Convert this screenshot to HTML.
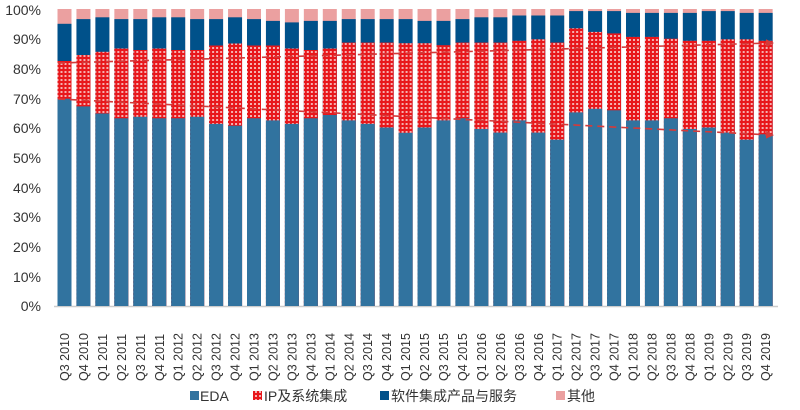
<!DOCTYPE html>
<html><head><meta charset="utf-8"><style>body{margin:0;background:#fff}svg{display:block}
.o{fill:#eba0a0}.s{fill:#00518a}.i{fill:url(#ip)}.e{fill:#31739f}</style></head>
<body>
<svg width="800" height="410" xmlns="http://www.w3.org/2000/svg" font-family="Liberation Sans, Noto Sans CJK SC, sans-serif">
<defs>
<pattern id="ip" width="4" height="4" patternUnits="userSpaceOnUse">
<rect width="4" height="4" fill="#f5b0b0"/>
<rect x="1" y="0" width="2" height="4" fill="#e8171b"/>
<rect x="0" y="1" width="4" height="2" fill="#e8171b"/>
</pattern>
<marker id="ar" markerWidth="8" markerHeight="8" refX="6" refY="4" orient="auto" markerUnits="userSpaceOnUse"><path d="M0,0 L8,4 L0,8 z" fill="#d43a3a"/></marker>
<g id="b0"><rect class="o" x="0" y="9" width="14" height="297"/></g>
</defs>
<g font-size="14" fill="#333" text-anchor="end">
<text x="41" y="15">100%</text><text x="41" y="44">90%</text><text x="41" y="74">80%</text><text x="41" y="104">70%</text><text x="41" y="133">60%</text><text x="41" y="163">50%</text><text x="41" y="193">40%</text><text x="41" y="222">30%</text><text x="41" y="252">20%</text><text x="41" y="282">10%</text><text x="41" y="311">0%</text>
</g>
<line x1="54" y1="306.5" x2="778" y2="306.5" stroke="#ccc" stroke-width="1.5"/>
<g>
<g transform="translate(57.5,0)"><use href="#b0"/><rect class="s" width="14" y="23.8" height="282.2"/><rect class="i" width="14" y="61" height="245"/><rect class="e" width="14" y="98.7" height="207.3"/></g>
<g transform="translate(76.45,0)"><use href="#b0"/><rect class="s" width="14" y="19.1" height="286.9"/><rect class="i" width="14" y="55" height="251"/><rect class="e" width="14" y="106.4" height="199.6"/></g>
<g transform="translate(95.4,0)"><use href="#b0"/><rect class="s" width="14" y="17.3" height="288.7"/><rect class="i" width="14" y="51.8" height="254.2"/><rect class="e" width="14" y="113.5" height="192.5"/></g>
<g transform="translate(114.35,0)"><use href="#b0"/><rect class="s" width="14" y="19.1" height="286.9"/><rect class="i" width="14" y="48.5" height="257.5"/><rect class="e" width="14" y="118.3" height="187.7"/></g>
<g transform="translate(133.3,0)"><use href="#b0"/><rect class="s" width="14" y="19.1" height="286.9"/><rect class="i" width="14" y="50" height="256"/><rect class="e" width="14" y="116.8" height="189.2"/></g>
<g transform="translate(152.25,0)"><use href="#b0"/><rect class="s" width="14" y="17.3" height="288.7"/><rect class="i" width="14" y="48.5" height="257.5"/><rect class="e" width="14" y="118.3" height="187.7"/></g>
<g transform="translate(171.2,0)"><use href="#b0"/><rect class="s" width="14" y="17.3" height="288.7"/><rect class="i" width="14" y="50" height="256"/><rect class="e" width="14" y="118.3" height="187.7"/></g>
<g transform="translate(190.15,0)"><use href="#b0"/><rect class="s" width="14" y="19.1" height="286.9"/><rect class="i" width="14" y="50" height="256"/><rect class="e" width="14" y="116.8" height="189.2"/></g>
<g transform="translate(209.1,0)"><use href="#b0"/><rect class="s" width="14" y="19.1" height="286.9"/><rect class="i" width="14" y="45.5" height="260.5"/><rect class="e" width="14" y="123.9" height="182.1"/></g>
<g transform="translate(228.05,0)"><use href="#b0"/><rect class="s" width="14" y="17.3" height="288.7"/><rect class="i" width="14" y="43.5" height="262.5"/><rect class="e" width="14" y="125.7" height="180.3"/></g>
<g transform="translate(247,0)"><use href="#b0"/><rect class="s" width="14" y="19.1" height="286.9"/><rect class="i" width="14" y="45.5" height="260.5"/><rect class="e" width="14" y="118.3" height="187.7"/></g>
<g transform="translate(265.95,0)"><use href="#b0"/><rect class="s" width="14" y="20.9" height="285.1"/><rect class="i" width="14" y="45.5" height="260.5"/><rect class="e" width="14" y="120.4" height="185.6"/></g>
<g transform="translate(284.9,0)"><use href="#b0"/><rect class="s" width="14" y="22.4" height="283.6"/><rect class="i" width="14" y="48.5" height="257.5"/><rect class="e" width="14" y="123.9" height="182.1"/></g>
<g transform="translate(303.85,0)"><use href="#b0"/><rect class="s" width="14" y="20.9" height="285.1"/><rect class="i" width="14" y="50" height="256"/><rect class="e" width="14" y="118.3" height="187.7"/></g>
<g transform="translate(322.8,0)"><use href="#b0"/><rect class="s" width="14" y="20.9" height="285.1"/><rect class="i" width="14" y="48.5" height="257.5"/><rect class="e" width="14" y="115" height="191"/></g>
<g transform="translate(341.75,0)"><use href="#b0"/><rect class="s" width="14" y="19.1" height="286.9"/><rect class="i" width="14" y="42.6" height="263.4"/><rect class="e" width="14" y="120.4" height="185.6"/></g>
<g transform="translate(360.7,0)"><use href="#b0"/><rect class="s" width="14" y="19.1" height="286.9"/><rect class="i" width="14" y="42.6" height="263.4"/><rect class="e" width="14" y="123.9" height="182.1"/></g>
<g transform="translate(379.65,0)"><use href="#b0"/><rect class="s" width="14" y="19.1" height="286.9"/><rect class="i" width="14" y="42.6" height="263.4"/><rect class="e" width="14" y="127.5" height="178.5"/></g>
<g transform="translate(398.6,0)"><use href="#b0"/><rect class="s" width="14" y="19.1" height="286.9"/><rect class="i" width="14" y="43.2" height="262.8"/><rect class="e" width="14" y="132.8" height="173.2"/></g>
<g transform="translate(417.55,0)"><use href="#b0"/><rect class="s" width="14" y="20.9" height="285.1"/><rect class="i" width="14" y="43.2" height="262.8"/><rect class="e" width="14" y="127.5" height="178.5"/></g>
<g transform="translate(436.5,0)"><use href="#b0"/><rect class="s" width="14" y="20.9" height="285.1"/><rect class="i" width="14" y="45.2" height="260.8"/><rect class="e" width="14" y="120.4" height="185.6"/></g>
<g transform="translate(455.45,0)"><use href="#b0"/><rect class="s" width="14" y="19.1" height="286.9"/><rect class="i" width="14" y="42.6" height="263.4"/><rect class="e" width="14" y="118.3" height="187.7"/></g>
<g transform="translate(474.4,0)"><use href="#b0"/><rect class="s" width="14" y="17.3" height="288.7"/><rect class="i" width="14" y="42.6" height="263.4"/><rect class="e" width="14" y="129" height="177"/></g>
<g transform="translate(493.35,0)"><use href="#b0"/><rect class="s" width="14" y="17.3" height="288.7"/><rect class="i" width="14" y="42.6" height="263.4"/><rect class="e" width="14" y="132.6" height="173.4"/></g>
<g transform="translate(512.3,0)"><use href="#b0"/><rect class="s" width="14" y="15.5" height="290.5"/><rect class="i" width="14" y="40.8" height="265.2"/><rect class="e" width="14" y="120.4" height="185.6"/></g>
<g transform="translate(531.25,0)"><use href="#b0"/><rect class="s" width="14" y="15.5" height="290.5"/><rect class="i" width="14" y="39.3" height="266.7"/><rect class="e" width="14" y="132.6" height="173.4"/></g>
<g transform="translate(550.2,0)"><use href="#b0"/><rect class="s" width="14" y="15.5" height="290.5"/><rect class="i" width="14" y="42.6" height="263.4"/><rect class="e" width="14" y="139.7" height="166.3"/></g>
<g transform="translate(569.15,0)"><use href="#b0"/><rect class="s" width="14" y="11.1" height="294.9"/><rect class="i" width="14" y="28.3" height="277.7"/><rect class="e" width="14" y="112.4" height="193.6"/></g>
<g transform="translate(588.1,0)"><use href="#b0"/><rect class="s" width="14" y="11.1" height="294.9"/><rect class="i" width="14" y="31.9" height="274.1"/><rect class="e" width="14" y="108.8" height="197.2"/></g>
<g transform="translate(607.05,0)"><use href="#b0"/><rect class="s" width="14" y="11.1" height="294.9"/><rect class="i" width="14" y="33.4" height="272.6"/><rect class="e" width="14" y="110.3" height="195.7"/></g>
<g transform="translate(626,0)"><use href="#b0"/><rect class="s" width="14" y="12.9" height="293.1"/><rect class="i" width="14" y="36.9" height="269.1"/><rect class="e" width="14" y="120.4" height="185.6"/></g>
<g transform="translate(644.95,0)"><use href="#b0"/><rect class="s" width="14" y="12.9" height="293.1"/><rect class="i" width="14" y="36.9" height="269.1"/><rect class="e" width="14" y="120.4" height="185.6"/></g>
<g transform="translate(663.9,0)"><use href="#b0"/><rect class="s" width="14" y="12.9" height="293.1"/><rect class="i" width="14" y="38.7" height="267.3"/><rect class="e" width="14" y="118.3" height="187.7"/></g>
<g transform="translate(682.85,0)"><use href="#b0"/><rect class="s" width="14" y="12.9" height="293.1"/><rect class="i" width="14" y="40.8" height="265.2"/><rect class="e" width="14" y="129" height="177"/></g>
<g transform="translate(701.8,0)"><use href="#b0"/><rect class="s" width="14" y="11.1" height="294.9"/><rect class="i" width="14" y="40.8" height="265.2"/><rect class="e" width="14" y="127.5" height="178.5"/></g>
<g transform="translate(720.75,0)"><use href="#b0"/><rect class="s" width="14" y="11.1" height="294.9"/><rect class="i" width="14" y="39.3" height="266.7"/><rect class="e" width="14" y="132.6" height="173.4"/></g>
<g transform="translate(739.7,0)"><use href="#b0"/><rect class="s" width="14" y="12.9" height="293.1"/><rect class="i" width="14" y="39.3" height="266.7"/><rect class="e" width="14" y="139.7" height="166.3"/></g>
<g transform="translate(758.65,0)"><use href="#b0"/><rect class="s" width="14" y="12.9" height="293.1"/><rect class="i" width="14" y="40.8" height="265.2"/><rect class="e" width="14" y="134.3" height="171.7"/></g>
</g>
<line x1="58" y1="99" x2="772" y2="135" stroke="#d43a3a" stroke-width="1.6" stroke-dasharray="7,5" marker-end="url(#ar)"/>
<line x1="58" y1="63" x2="772" y2="43" stroke="#d43a3a" stroke-width="1.6" stroke-dasharray="7,5" marker-end="url(#ar)"/>
<g font-size="12.5" fill="#333">
<text transform="translate(69,381) rotate(-90)">Q3 2010</text>
<text transform="translate(87.95,381) rotate(-90)">Q4 2010</text>
<text transform="translate(106.9,381) rotate(-90)">Q1 2011</text>
<text transform="translate(125.85,381) rotate(-90)">Q2 2011</text>
<text transform="translate(144.8,381) rotate(-90)">Q3 2011</text>
<text transform="translate(163.75,381) rotate(-90)">Q4 2011</text>
<text transform="translate(182.7,381) rotate(-90)">Q1 2012</text>
<text transform="translate(201.65,381) rotate(-90)">Q2 2012</text>
<text transform="translate(220.6,381) rotate(-90)">Q3 2012</text>
<text transform="translate(239.55,381) rotate(-90)">Q4 2012</text>
<text transform="translate(258.5,381) rotate(-90)">Q1 2013</text>
<text transform="translate(277.45,381) rotate(-90)">Q2 2013</text>
<text transform="translate(296.4,381) rotate(-90)">Q3 2013</text>
<text transform="translate(315.35,381) rotate(-90)">Q4 2013</text>
<text transform="translate(334.3,381) rotate(-90)">Q1 2014</text>
<text transform="translate(353.25,381) rotate(-90)">Q2 2014</text>
<text transform="translate(372.2,381) rotate(-90)">Q3 2014</text>
<text transform="translate(391.15,381) rotate(-90)">Q4 2014</text>
<text transform="translate(410.1,381) rotate(-90)">Q1 2015</text>
<text transform="translate(429.05,381) rotate(-90)">Q2 2015</text>
<text transform="translate(448,381) rotate(-90)">Q3 2015</text>
<text transform="translate(466.95,381) rotate(-90)">Q4 2015</text>
<text transform="translate(485.9,381) rotate(-90)">Q1 2016</text>
<text transform="translate(504.85,381) rotate(-90)">Q2 2016</text>
<text transform="translate(523.8,381) rotate(-90)">Q3 2016</text>
<text transform="translate(542.75,381) rotate(-90)">Q4 2016</text>
<text transform="translate(561.7,381) rotate(-90)">Q1 2017</text>
<text transform="translate(580.65,381) rotate(-90)">Q2 2017</text>
<text transform="translate(599.6,381) rotate(-90)">Q3 2017</text>
<text transform="translate(618.55,381) rotate(-90)">Q4 2017</text>
<text transform="translate(637.5,381) rotate(-90)">Q1 2018</text>
<text transform="translate(656.45,381) rotate(-90)">Q2 2018</text>
<text transform="translate(675.4,381) rotate(-90)">Q3 2018</text>
<text transform="translate(694.35,381) rotate(-90)">Q4 2018</text>
<text transform="translate(713.3,381) rotate(-90)">Q1 2019</text>
<text transform="translate(732.25,381) rotate(-90)">Q2 2019</text>
<text transform="translate(751.2,381) rotate(-90)">Q3 2019</text>
<text transform="translate(770.15,381) rotate(-90)">Q4 2019</text>
</g>
<g font-size="14" fill="#333">
<rect x="190" y="391" width="9" height="9" fill="#31739f"/><text x="200" y="401">EDA</text>
<rect x="253" y="391" width="9" height="9" fill="url(#ip)"/><text x="264" y="401">IP及系统集成</text>
<rect x="380" y="391" width="9" height="9" fill="#00518a"/><text x="391" y="401">软件集成产品与服务</text>
<rect x="556" y="391" width="9" height="9" fill="#eba0a0"/><text x="567" y="401">其他</text>
</g>
</svg>
</body></html>
